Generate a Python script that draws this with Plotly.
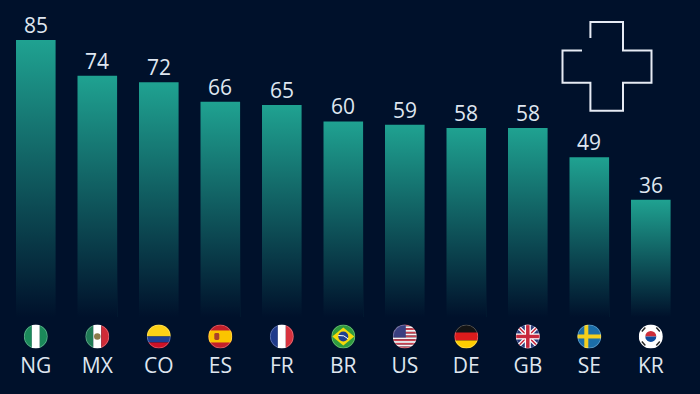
import base64
import plotly.graph_objects as go

categories = ["NG", "MX", "CO", "ES", "FR", "BR", "US", "DE", "GB", "SE", "KR"]
values = [85, 74, 72, 66, 65, 60, 59, 58, 58, 49, 36]

BG = "#00112b"
TEAL = "#1fa291"
TEXT = "#dfe6f0"
W, H = 700, 394
BASE = 317.5
PX_PER_UNIT = 3.265
BAR_PX = 39.6
STEP = 61.5
X0 = 35.8


def uri(svg):
    return "data:image/svg+xml;base64," + base64.b64encode(svg.encode()).decode()


FADE = uri(
    '<svg xmlns="http://www.w3.org/2000/svg" width="10" height="100" preserveAspectRatio="none" viewBox="0 0 10 100">'
    '<defs><linearGradient id="g" x1="0" y1="0" x2="0" y2="1">'
    f'<stop offset="0" stop-color="{BG}" stop-opacity="0"/>'
    f'<stop offset="1" stop-color="{BG}" stop-opacity="1"/>'
    '</linearGradient></defs><rect width="10" height="100" fill="url(#g)"/></svg>'
)


def flag(body):
    return uri(
        '<svg xmlns="http://www.w3.org/2000/svg" xmlns:xlink="http://www.w3.org/1999/xlink" width="48" height="48" viewBox="0 0 48 48">'
        '<defs><clipPath id="c"><circle cx="24" cy="24" r="24"/></clipPath></defs>'
        f'<g clip-path="url(#c)">{body}'
        '<circle cx="24" cy="24" r="23.2" fill="none" stroke="#ffffff" stroke-opacity="0.35" stroke-width="1.6"/></g></svg>'
    )


def r(x, y, w, h, c, extra=""):
    return f'<rect x="{x}" y="{y}" width="{w}" height="{h}" fill="{c}" {extra}/>'


us_stripes = "".join(r(0, i * 48 / 13, 48, 48 / 13, "#c8404e" if i % 2 == 0 else "#f6f6f6") for i in range(13))
FLAGS = {
    "NG": r(0, 0, 16, 48, "#1b8a5a") + r(16, 0, 16, 48, "#ffffff") + r(32, 0, 16, 48, "#1b8a5a"),
    "MX": r(0, 0, 16, 48, "#1f7a55") + r(16, 0, 16, 48, "#ffffff") + r(32, 0, 16, 48, "#cf2b37")
    + '<circle cx="24" cy="24" r="6.5" fill="#8b7a4a"/>',
    "CO": r(0, 0, 48, 24, "#fdd116") + r(0, 24, 48, 12, "#1f3f94") + r(0, 36, 48, 12, "#ce1126"),
    "ES": r(0, 0, 48, 48, "#c4202a") + r(0, 12, 48, 24, "#fbc400") + r(12, 17, 10, 14, "#a8402a", 'rx="3"'),
    "FR": r(0, 0, 16, 48, "#1f3a8a") + r(16, 0, 16, 48, "#ffffff") + r(32, 0, 16, 48, "#d8323e"),
    "BR": r(0, 0, 48, 48, "#2f9b3e")
    + '<polygon points="24,6 46,24 24,42 2,24" fill="#f5d90a"/><circle cx="24" cy="24" r="10" fill="#1f3f8f"/>'
    + '<path d="M14 22 Q26 20 34 29" stroke="#fff" stroke-width="2" fill="none"/>',
    "US": us_stripes + r(0, 0, 26, 26, "#3a3f80"),
    "DE": r(0, 0, 48, 16, "#141414") + r(0, 16, 48, 16, "#dd1c1c") + r(0, 32, 48, 16, "#ffce00"),
    "GB": r(0, 0, 48, 48, "#2a3a78")
    + '<path d="M0 0L48 48M48 0L0 48" stroke="#fff" stroke-width="8"/>'
    + '<path d="M0 0L48 48M48 0L0 48" stroke="#c8283c" stroke-width="3"/>'
    + r(18, 0, 12, 48, "#fff") + r(0, 18, 48, 12, "#fff")
    + r(20.5, 0, 7, 48, "#c8283c") + r(0, 20.5, 48, 7, "#c8283c"),
    "SE": r(0, 0, 48, 48, "#1b6ea8") + r(14, 0, 8, 48, "#f4cf1c") + r(0, 20, 48, 8, "#f4cf1c"),
    "KR": r(0, 0, 48, 48, "#ffffff")
    + '<path d="M13 24a11 11 0 0 1 22 0z" fill="#cd2e3a"/><path d="M13 24a11 11 0 0 0 22 0z" fill="#0f4c9c"/>'
    + '<g stroke="#222" stroke-width="3"><path d="M6 14L13 6"/><path d="M42 14L35 6"/><path d="M6 34L13 42"/><path d="M42 34L35 42"/></g>',
}

fig = go.Figure(
    go.Bar(
        x=categories,
        y=values,
        cliponaxis=False,
        marker=dict(color=TEAL, line=dict(width=0)),
        width=BAR_PX / STEP,
        hoverinfo="skip",
    )
)

images = []
annotations = []
for i, (cat, val) in enumerate(zip(categories, values)):
    # Fade each bar to the background, top to baseline
    images.append(dict(
        source=FADE, xref="x", yref="y", x=i - BAR_PX / STEP / 2 - 0.01, y=val,
        sizex=BAR_PX / STEP + 0.02, sizey=val, sizing="stretch",
        xanchor="left", yanchor="top", layer="above",
    ))
    images.append(dict(
        source=flag(FLAGS[cat]), xref="x", yref="paper", x=i, y=(BASE - 337) / BASE,
        sizex=24 / STEP, sizey=24 / BASE, sizing="stretch",
        xanchor="center", yanchor="middle", layer="above",
    ))
    annotations.append(dict(
        x=cat, y=val, xref="x", yref="y", text=str(val), showarrow=False,
        yanchor="bottom", yshift=-1,
        font=dict(family="Open Sans", size=21, color=TEXT),
    ))

cross = [(590.4, 38), (590.4, 22), (623, 22), (623, 50.5), (651.5, 50.5), (651.5, 83),
         (623, 83), (623, 111), (590.4, 111), (590.4, 83), (562.5, 83), (562.5, 50.5), (582, 50.5)]
path = "M " + " L ".join(f"{x / W:.5f} {(BASE - y) / BASE:.5f}" for x, y in cross)

fig.update_layout(
    width=W, height=H, autosize=False,
    margin=dict(l=0, r=0, t=0, b=H - BASE, autoexpand=False),
    paper_bgcolor=BG, plot_bgcolor=BG,
    showlegend=False,
    images=images,
    annotations=annotations,
    shapes=[dict(type="path", path=path, xref="paper", yref="paper",
                 line=dict(color="#e6ebf4", width=2), layer="above")],
    xaxis=dict(
        type="category", categoryorder="array", categoryarray=categories,
        range=[(0 - X0) / STEP, (W - X0) / STEP],
        showgrid=False, zeroline=False, showline=False, ticks="",
        ticklabelstandoff=34,
        tickfont=dict(family="Open Sans", size=21, color=TEXT),
        automargin=False,
    ),
    yaxis=dict(range=[0, BASE / PX_PER_UNIT], visible=False, fixedrange=True),
)

fig.write_html(
    "out.html",
    config=dict(displayModeBar=False),
    post_script=f"document.documentElement.style.background='{BG}';"
                "document.body.style.margin='0';document.body.style.overflow='hidden';",
)
